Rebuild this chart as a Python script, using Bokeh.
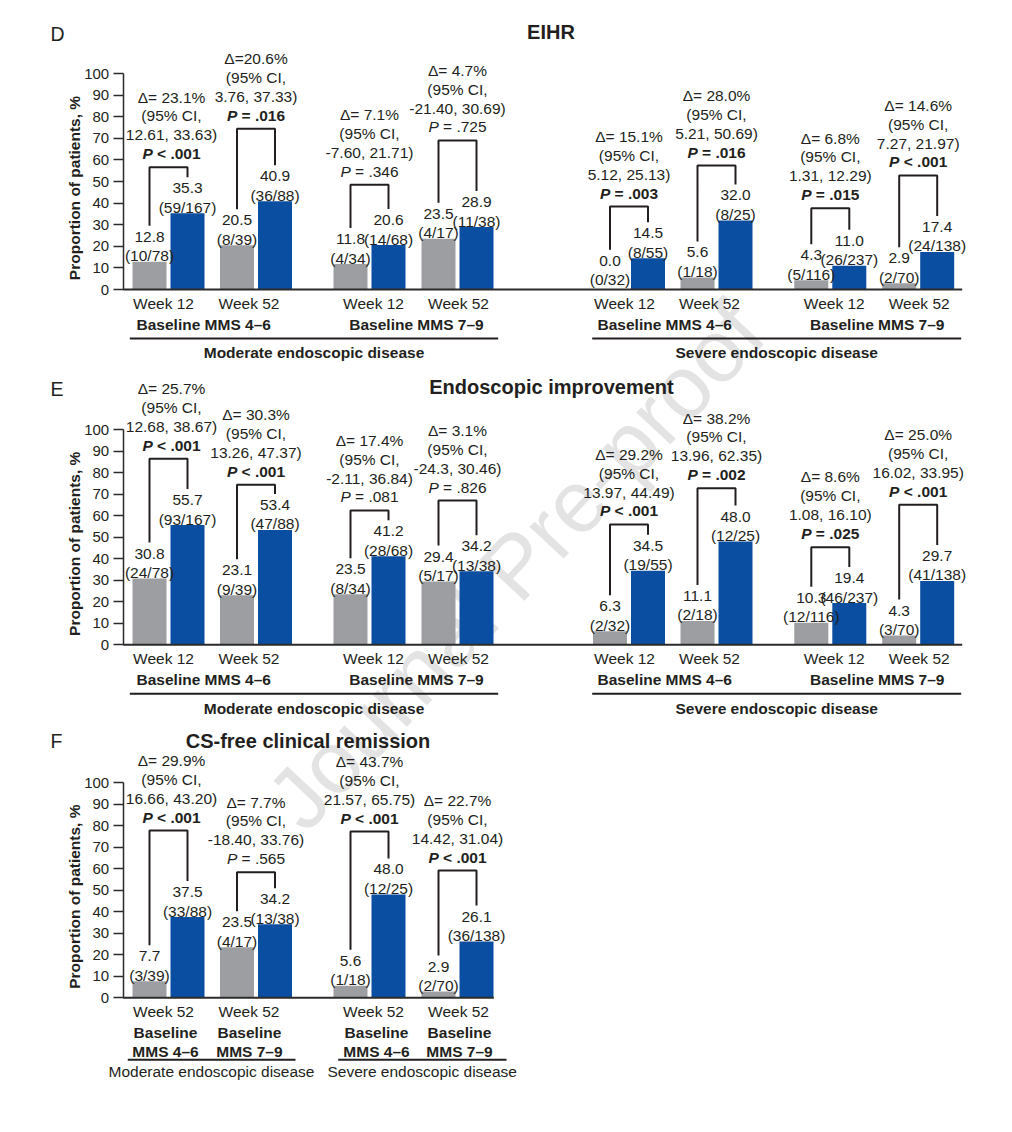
import math
from bokeh.plotting import figure
from bokeh.models import Range1d, FixedTicker, LinearAxis
from bokeh.core.properties import value
from bokeh.embed import file_html
from bokeh.resources import INLINE

# ---------------- data ----------------
weeks_8 = ["Week 12", "Week 52", "Week 12", "Week 52", "Week 12", "Week 52", "Week 12", "Week 52"]
weeks_4 = ["Week 52", "Week 52", "Week 52", "Week 52"]
baseline_groups = ["Baseline MMS 4–6", "Baseline MMS 7–9", "Baseline MMS 4–6", "Baseline MMS 7–9"]
f_baseline_top = ["Baseline", "Baseline", "Baseline", "Baseline"]
f_baseline_bottom = ["MMS 4–6", "MMS 7–9", "MMS 4–6", "MMS 7–9"]
disease_groups = ["Moderate endoscopic disease", "Severe endoscopic disease"]

eihr_placebo = [12.8, 20.5, 11.8, 23.5, 0.0, 5.6, 4.3, 2.9]
eihr_placebo_n = ["(10/78)", "(8/39)", "(4/34)", "(4/17)", "(0/32)", "(1/18)", "(5/116)", "(2/70)"]
eihr_miri = [35.3, 40.9, 20.6, 28.9, 14.5, 32.0, 11.0, 17.4]
eihr_miri_n = ["(59/167)", "(36/88)", "(14/68)", "(11/38)", "(8/55)", "(8/25)", "(26/237)", "(24/138)"]
eihr_delta = ["Δ= 23.1%", "Δ=20.6%", "Δ= 7.1%", "Δ= 4.7%", "Δ= 15.1%", "Δ= 28.0%", "Δ= 6.8%", "Δ= 14.6%"]
eihr_ci = ["12.61, 33.63)", "3.76, 37.33)", "-7.60, 21.71)", "-21.40, 30.69)",
           "5.12, 25.13)", "5.21, 50.69)", "1.31, 12.29)", "7.27, 21.97)"]
eihr_p = ["< .001", "= .016", "= .346", "= .725", "= .003", "= .016", "= .015", "< .001"]
eihr_sig = [True, True, False, False, True, True, True, True]

ei_placebo = [30.8, 23.1, 23.5, 29.4, 6.3, 11.1, 10.3, 4.3]
ei_placebo_n = ["(24/78)", "(9/39)", "(8/34)", "(5/17)", "(2/32)", "(2/18)", "(12/116)", "(3/70)"]
ei_miri = [55.7, 53.4, 41.2, 34.2, 34.5, 48.0, 19.4, 29.7]
ei_miri_n = ["(93/167)", "(47/88)", "(28/68)", "(13/38)", "(19/55)", "(12/25)", "(46/237)", "(41/138)"]
ei_delta = ["Δ= 25.7%", "Δ= 30.3%", "Δ= 17.4%", "Δ= 3.1%", "Δ= 29.2%", "Δ= 38.2%", "Δ= 8.6%", "Δ= 25.0%"]
ei_ci = ["12.68, 38.67)", "13.26, 47.37)", "-2.11, 36.84)", "-24.3, 30.46)",
         "13.97, 44.49)", "13.96, 62.35)", "1.08, 16.10)", "16.02, 33.95)"]
ei_p = ["< .001", "< .001", "= .081", "= .826", "< .001", "= .002", "= .025", "< .001"]
ei_sig = [True, True, False, False, True, True, True, True]

cs_placebo = [7.7, 23.5, 5.6, 2.9]
cs_placebo_n = ["(3/39)", "(4/17)", "(1/18)", "(2/70)"]
cs_miri = [37.5, 34.2, 48.0, 26.1]
cs_miri_n = ["(33/88)", "(13/38)", "(12/25)", "(36/138)"]
cs_delta = ["Δ= 29.9%", "Δ= 7.7%", "Δ= 43.7%", "Δ= 22.7%"]
cs_ci = ["16.66, 43.20)", "-18.40, 33.76)", "21.57, 65.75)", "14.42, 31.04)"]
cs_p = ["< .001", "= .565", "< .001", "< .001"]
cs_sig = [True, False, True, True]

y_ticks = list(range(0, 101, 10))

# ---------------- style / layout ----------------
FONT = "Liberation Sans"
INK = "#231f20"
AXIS = "#2b2b2b"
GRAY = "#9d9ea2"
BLUE = "#0a4ea2"
WATER = "#e3e3e3"
FS = 15.5
TFS = 20
W_TOTAL = 1004
H_TOTAL = 1100
GX8 = [149, 236.5, 350, 438, 609.5, 697, 810.8, 898.7]   # placebo bar centres (page px)
PAIR_DX = 38
BAR_W = 34
AXIS_X = 122.7
LINE_H = 18.9

ADV = {"0": 556, "1": 556, "2": 556, "3": 556, "4": 556, "5": 556, "6": 556, "7": 556,
       "8": 556, "9": 556, " ": 278, ".": 278, "=": 584, "<": 584, "P": 667}


def tw(s, size):
    return sum(ADV.get(c, 556) for c in s) * size / 1000.0


p = figure(width=W_TOTAL, height=H_TOTAL,
           x_range=Range1d(0, W_TOTAL), y_range=Range1d(H_TOTAL, 0),
           output_backend="svg", toolbar_location=None,
           x_axis_location=None, y_axis_location=None,
           min_border=0, title=None, outline_line_color=None,
           background_fill_color="white", border_fill_color="white")
p.grid.visible = False


def txt(xs, ys, texts, rng="default", size=FS, style="normal", align="center", angle=0.0, color=INK):
    p.text(x=list(xs), y=list(ys), text=list(texts), angle=angle,
           text_font=value(FONT), text_font_size=value(f"{size}px"),
           text_font_style=style, text_align=align, text_baseline="middle",
           text_color=color, y_range_name=rng)


# watermark (drawn first, under everything)
txt([515], [565], ["Journal Pre-proof"], size=88, angle=math.radians(47), color=WATER)


def panel(name, y0, ppu, letter, letter_y, title, title_cx, title_y,
          gx, placebo, placebo_n, miri, miri_n, delta, ci, pvals, sig,
          btop, block_dx, weeks, week_dx, axis_end, kind):
    # y range for this panel: value v sits at page y0 - v*ppu
    p.extra_y_ranges[name] = Range1d((y0 - H_TOTAL) / ppu, y0 / ppu)

    def u(px):
        return px / ppu

    def T(xs, ys, texts, **kw):
        txt(xs, ys, texts, rng=name, **kw)

    ax = LinearAxis(y_range_name=name, fixed_location=AXIS_X, bounds=(0, 100),
                    ticker=FixedTicker(ticks=y_ticks))
    ax.major_tick_out = 10
    ax.major_tick_in = 0
    ax.minor_tick_out = 0
    ax.minor_tick_in = 0
    ax.axis_line_color = AXIS
    ax.axis_line_width = 1.5
    ax.major_tick_line_color = AXIS
    ax.major_tick_line_width = 1.5
    ax.major_label_text_font = FONT
    ax.major_label_text_font_size = "15px"
    ax.major_label_text_color = INK
    ax.major_label_standoff = 4
    p.add_layout(ax, "left")

    n = len(gx)
    bx = [g + PAIR_DX for g in gx]
    p.vbar(x=gx, top=placebo, bottom=0, width=BAR_W, fill_color=GRAY, line_color=None,
           y_range_name=name)
    p.vbar(x=bx, top=miri, bottom=0, width=BAR_W, fill_color=BLUE, line_color=None,
           y_range_name=name)

    # baseline (x axis line)
    p.segment(x0=[AXIS_X], y0=[0], x1=[axis_end], y1=[0], line_color=AXIS, line_width=2,
              y_range_name=name)

    # bar labels
    pb = [max(v, 1.7) for v in placebo]
    mb = [max(v, 1.7) for v in miri]
    T(gx, [b + u(6) for b in pb], placebo_n)
    T(gx, [b + u(25) for b in pb], [f"{v:.1f}" for v in placebo])
    T(bx, [b + u(6) for b in mb], miri_n)
    T(bx, [b + u(25) for b in mb], [f"{v:.1f}" for v in miri])

    # brackets
    xs = [[gx[i], gx[i], bx[i], bx[i]] for i in range(n)]
    ys = [[pb[i] + u(36), btop[i], btop[i], mb[i] + u(36)] for i in range(n)]
    p.multi_line(xs=xs, ys=ys, line_color=INK, line_width=2, y_range_name=name)

    # annotation blocks
    cx = [gx[i] + PAIR_DX / 2 + block_dx[i] for i in range(n)]
    T(cx, [btop[i] + u(13.5 + 3 * LINE_H) for i in range(n)], delta)
    T(cx, [btop[i] + u(13.5 + 2 * LINE_H) for i in range(n)], ["(95% CI,"] * n)
    T(cx, [btop[i] + u(13.5 + LINE_H) for i in range(n)], ci)
    for s_flag, pstyle, rstyle in ((True, "bold italic", "bold"), (False, "italic", "normal")):
        idx = [i for i in range(n) if sig[i] == s_flag]
        if not idx:
            continue
        px_, rx_, yy, rt = [], [], [], []
        for i in idx:
            wp = tw("P", FS)
            ws = tw(" ", FS)
            wr = tw(pvals[i], FS)
            start = cx[i] - (wp + ws + wr) / 2
            px_.append(start)
            rx_.append(start + wp + ws)
            yy.append(btop[i] + u(13.5))
            rt.append(pvals[i])
        T(px_, yy, ["P"] * len(idx), style=pstyle, align="left")
        T(rx_, yy, rt, style=rstyle, align="left")

    # category labels under the axis
    gc = [gx[i] + PAIR_DX / 2 for i in range(n)]
    T([gc[i] + week_dx[i] for i in range(n)], [-u(13.5)] * n, weeks)

    if kind == "wide":
        pair_c = [(gx[k] + bx[k + 1]) / 2 for k in range(0, n, 2)]
        nud = [-8.5, 3, -8, 3]
        T([pair_c[k] + nud[k] for k in range(4)], [-u(35)] * 4, baseline_groups, style="bold")
        p.segment(x0=[129.3, 591.7], y0=[-u(49)] * 2, x1=[497.7, 960.7], y1=[-u(49)] * 2,
                  line_color=INK, line_width=2, y_range_name=name)
        T([313.5, 776.2], [-u(63.3)] * 2, disease_groups, style="bold")
    else:
        nud = [-3, -6.6, 7, 2]
        T([gc[k] + nud[k] for k in range(4)], [-u(35)] * 4, f_baseline_top, style="bold")
        T([gc[k] + nud[k] for k in range(4)], [-u(53.7)] * 4, f_baseline_bottom, style="bold")
        p.segment(x0=[127.3, 337.7], y0=[-u(62)] * 2, x1=[295, 506], y1=[-u(62)] * 2,
                  line_color=INK, line_width=2, y_range_name=name)
        T([211, 421.7], [-u(73.4)] * 2, disease_groups)

    # panel letter, title, y-axis title (page-positioned)
    txt([50], [letter_y], [letter], size=19.5, align="left")
    txt([title_cx], [title_y], [title], size=TFS, style="bold")
    T([74], [50 - u(6.5)], ["Proportion of patients, %"], style="bold", angle=math.pi / 2)


panel("D", 289.0, 2.16, "D", 33.7, "EIHR", 550.5, 31,
      GX8, eihr_placebo, eihr_placebo_n, eihr_miri, eihr_miri_n,
      eihr_delta, eihr_ci, eihr_p, eihr_sig,
      [56.6, 74.4, 48.5, 69.0, 38.4, 57.4, 37.6, 52.8],
      [3, 0, 0, 0, 0, 0, 0, 0], weeks_8, [-5, -7, 4, 1, -4.5, -7, 4, 1], 961.7, "wide")

panel("E", 644.3, 2.15, "E", 388.3, "Endoscopic improvement", 551, 386.7,
      GX8, ei_placebo, ei_placebo_n, ei_miri, ei_miri_n,
      ei_delta, ei_ci, ei_p, ei_sig,
      [86.5, 74.4, 62.5, 67.1, 56.0, 72.8, 45.4, 65.1],
      [3, 0, 0, 0, 0, 0, 0, 0], weeks_8, [-5, -7, 4, 1, -4.5, -7, 4, 1], 961.7, "wide")

panel("F", 997.3, 2.153, "F", 740, "CS-free clinical remission", 307.5, 740,
      GX8[:4], cs_placebo, cs_placebo_n, cs_miri, cs_miri_n,
      cs_delta, cs_ci, cs_p, cs_sig,
      [77.7, 58.3, 77.2, 59.1],
      [3, 0, 0, 0], weeks_4, [-5, -7, 4, 1], 493.3, "narrow")

open("out.html", "w").write(file_html(p, INLINE))
